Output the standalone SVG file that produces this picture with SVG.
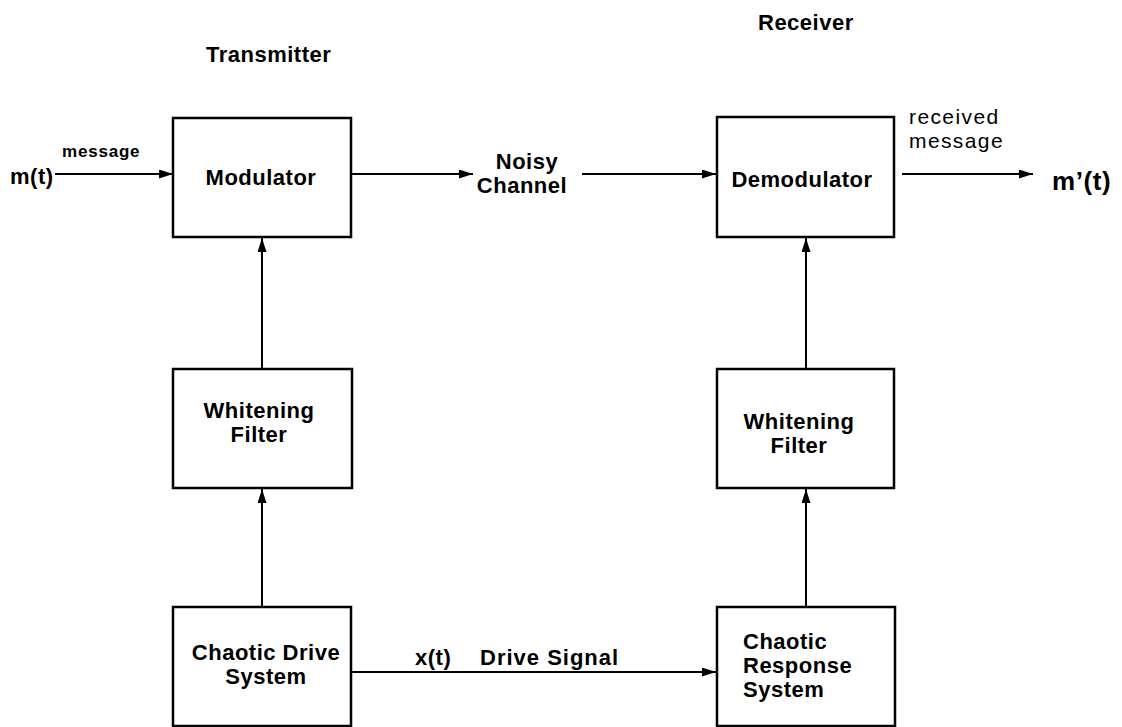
<svg xmlns="http://www.w3.org/2000/svg" width="1122" height="727" viewBox="0 0 1122 727">
<style>
.box{fill:#fff;stroke:#000;stroke-width:2.5}
.ln{stroke:#000;stroke-width:2;fill:none;marker-end:url(#ah)}
.t{font-family:"Liberation Sans",Arial,sans-serif;font-weight:bold;font-size:22px;letter-spacing:0.5px;fill:#000}
.m{text-anchor:middle}
.r{font-family:"Liberation Sans",Arial,sans-serif;font-size:21px;letter-spacing:1.4px;fill:#000}
</style>
<defs>
<marker id="ah" markerUnits="userSpaceOnUse" markerWidth="15" markerHeight="9" refX="14" refY="4.5" orient="auto">
<path d="M0,0 L14,4.5 L0,9 z" fill="#000"/>
</marker>
</defs>
<rect width="1122" height="727" fill="#fff"/>
<text class="t" x="206" y="62">Transmitter</text>
<text class="t" x="758" y="30">Receiver</text>
<g id="connectors">
<line class="ln" x1="55" y1="174" x2="173" y2="174"/>
<line class="ln" x1="351" y1="174" x2="473" y2="174"/>
<line class="ln" x1="582" y1="174" x2="716" y2="174"/>
<line class="ln" x1="902" y1="174" x2="1033" y2="174"/>
<line class="ln" x1="262" y1="369" x2="262" y2="238"/>
<line class="ln" x1="262" y1="607" x2="262" y2="489"/>
<line class="ln" x1="806" y1="369" x2="806" y2="238"/>
<line class="ln" x1="806" y1="607" x2="806" y2="489"/>
<line class="ln" x1="351" y1="672" x2="716" y2="672"/>
<text class="t" x="10" y="184">m(t)</text>
<text class="t" x="62" y="157" style="font-size:17px;letter-spacing:0.8px">message</text>
<text class="t m" x="527" y="169">Noisy</text>
<text class="t m" x="522" y="193">Channel</text>
<text class="r" x="909" y="124">received</text>
<text class="r" x="909" y="148">message</text>
<text class="t" x="1052" y="190" style="font-size:26px;letter-spacing:0.6px">m’(t)</text>
<text class="t" x="415" y="665">x(t)</text>
<text class="t" x="480" y="665" style="letter-spacing:1px">Drive Signal</text>
</g>
<g id="modulator">
<rect class="box" x="173" y="118" width="178" height="119"/>
<text class="t m" x="261" y="185">Modulator</text>
</g>
<g id="demodulator">
<rect class="box" x="717" y="117" width="177" height="120"/>
<text class="t m" x="802" y="187">Demodulator</text>
</g>
<g id="whitening-tx">
<rect class="box" x="173" y="369" width="179" height="119"/>
<text class="t m" x="259" y="418">Whitening</text>
<text class="t m" x="259" y="442">Filter</text>
</g>
<g id="whitening-rx">
<rect class="box" x="717" y="369" width="177" height="119"/>
<text class="t m" x="799" y="429">Whitening</text>
<text class="t m" x="799" y="453">Filter</text>
</g>
<g id="chaotic-drive">
<rect class="box" x="173" y="607" width="178" height="119"/>
<text class="t m" x="266" y="660">Chaotic Drive</text>
<text class="t m" x="266" y="684">System</text>
</g>
<g id="chaotic-response">
<rect class="box" x="717" y="607" width="178" height="119"/>
<text class="t" x="743" y="649">Chaotic</text>
<text class="t" x="743" y="673">Response</text>
<text class="t" x="743" y="697">System</text>
</g>
</svg>
